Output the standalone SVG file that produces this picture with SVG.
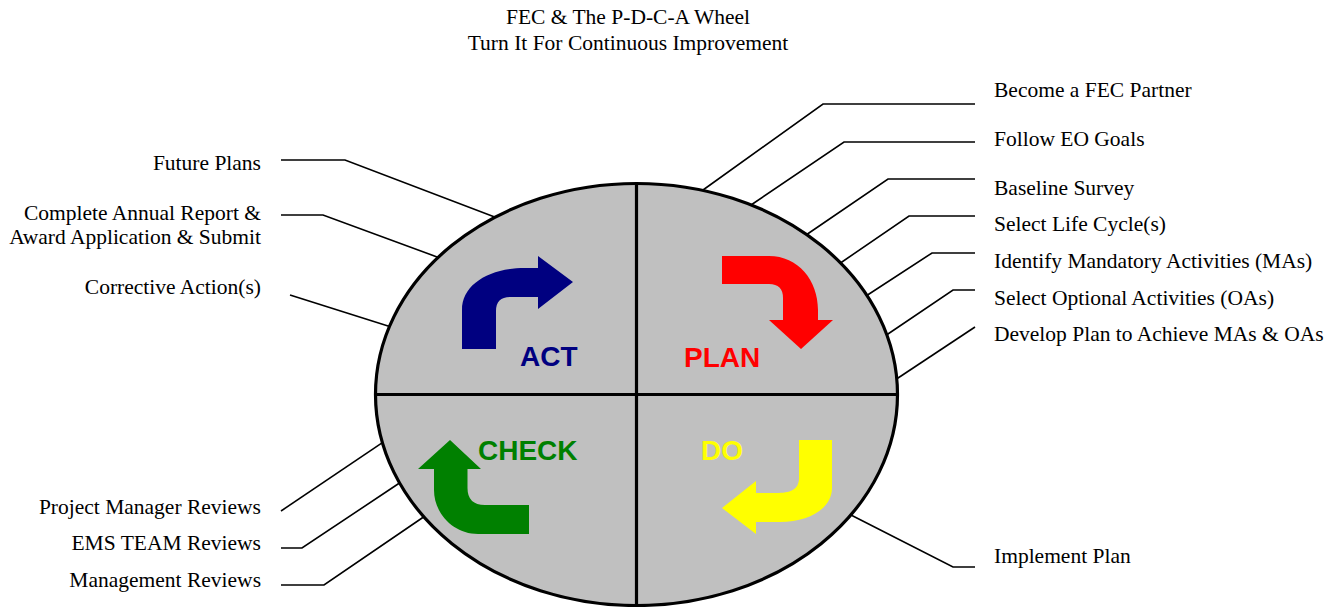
<svg xmlns="http://www.w3.org/2000/svg" width="1339" height="607" viewBox="0 0 1339 607">
<style>
.t{font-family:"Liberation Serif","Times New Roman",serif;font-size:21.5px;fill:#000}
.e{text-anchor:end}
.c{text-anchor:middle}
.lbl{font-family:"Liberation Sans",Arial,sans-serif;font-size:28px;font-weight:bold}
.con{fill:none;stroke:#000;stroke-width:1.6;stroke-linejoin:miter}
.ax{stroke:#000;stroke-width:3.2;fill:none}
</style>
<rect width="1339" height="607" fill="#fff"/>
<g id="title">
<text class="t c" x="628" y="24">FEC &amp; The P-D-C-A Wheel</text>
<text class="t c" x="628" y="50">Turn It For Continuous Improvement</text>
</g>
<g id="connectors">
<polyline class="con" points="281,160 345,160 496,217.4"/>
<polyline class="con" points="281,215 323,215 441,258.4"/>
<polyline class="con" points="290,295 392,327.2"/>
<polyline class="con" points="281,511 385,440.8"/>
<polyline class="con" points="281,548 302,548 401,482"/>
<polyline class="con" points="281,585 324,585 425,516"/>
<polyline class="con" points="975,104 823,104 703,190"/>
<polyline class="con" points="975,142 844,142 751,205"/>
<polyline class="con" points="975,179 888,179 806,235"/>
<polyline class="con" points="975,216 909,216 839,264"/>
<polyline class="con" points="975,253 932,253 866,296"/>
<polyline class="con" points="975,290 953,290 885,336"/>
<polyline class="con" points="975,327 895,380"/>
<polyline class="con" points="975,567 953,567 849,514"/>
</g>
<g id="wheel">
<ellipse cx="636.5" cy="394.5" rx="261" ry="211" fill="#C0C0C0" stroke="#000" stroke-width="3.2"/>
<line class="ax" x1="376" y1="394.5" x2="897" y2="394.5"/>
<line class="ax" x1="636.5" y1="183" x2="636.5" y2="607"/>
</g>
<g id="act">
<path fill="#000080" d="M462 349 L462 310 C462 284 490 268 525 268 L538 268 L538 256 L573 282 L538 309 L538 297 L510 297 Q496 297 496 311 L496 349 Z"/>
<text class="lbl" fill="#000080" x="520" y="366">ACT</text>
</g>
<g id="plan">
<path fill="#FF0000" d="M722 256 L769 256 C798 256 818 280 818 310 L818 320 L833 320 L801 349 L769 320 L783 320 L783 298 Q783 284 769 284 L722 284 Z"/>
<text class="lbl" fill="#FF0000" x="684" y="367">PLAN</text>
</g>
<g id="check">
<path fill="#008000" d="M450 440 L481 469 L467.5 469 L467.5 488 Q467.5 505 485 505 L529 505 L529 534 L478 534 C454 534 434 514 434 490 L434 469 L418 469 Z"/>
<text class="lbl" fill="#008000" x="478" y="460">CHECK</text>
</g>
<g id="do">
<path fill="#FFFF00" d="M799 440 L832 440 L832 488 C832 508 810 522 780 522 L756 522 L756 534 L722 508 L756 481 L756 493 L776 493 C790 493 799 490 799 478 Z"/>
<text class="lbl" fill="#FFFF00" x="701" y="460">DO</text>
</g>
<g id="labels-left">
<text class="t e" x="261" y="170">Future Plans</text>
<text class="t e" x="261" y="220">Complete Annual Report &amp;</text>
<text class="t e" x="261" y="244">Award Application &amp; Submit</text>
<text class="t e" x="261" y="294">Corrective Action(s)</text>
<text class="t e" x="261" y="514">Project Manager Reviews</text>
<text class="t e" x="261" y="550">EMS TEAM Reviews</text>
<text class="t e" x="261" y="587">Management Reviews</text>
</g>
<g id="labels-right">
<text class="t" x="994" y="97">Become a FEC Partner</text>
<text class="t" x="994" y="146">Follow EO Goals</text>
<text class="t" x="994" y="195">Baseline Survey</text>
<text class="t" x="994" y="231">Select Life Cycle(s)</text>
<text class="t" x="994" y="268">Identify Mandatory Activities (MAs)</text>
<text class="t" x="994" y="305">Select Optional Activities (OAs)</text>
<text class="t" x="994" y="341">Develop Plan to Achieve MAs &amp; OAs</text>
<text class="t" x="994" y="563">Implement Plan</text>
</g>
</svg>
